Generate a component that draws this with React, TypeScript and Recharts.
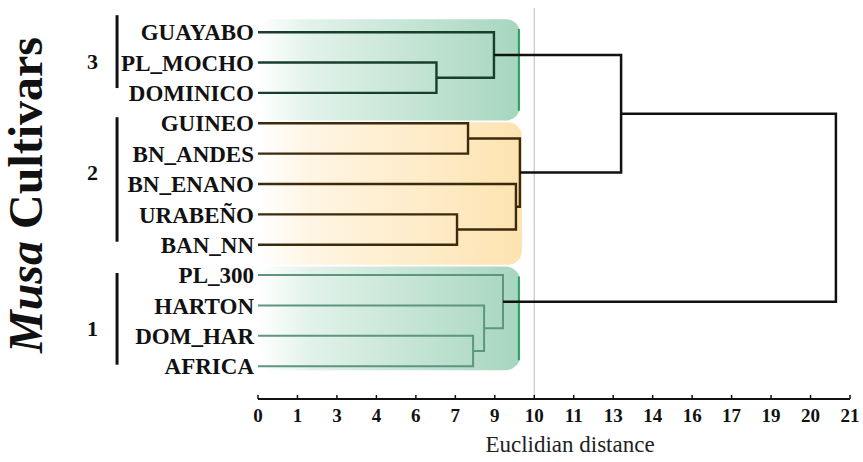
import React from 'react';
import { ComposedChart, Line, XAxis, YAxis, ReferenceLine, ReferenceArea, ReferenceDot, Label } from 'recharts';

// leaves, top to bottom
const leaves = ['GUAYABO', 'PL_MOCHO', 'DOMINICO', 'GUINEO', 'BN_ANDES', 'BN_ENANO', 'URABEÑO', 'BAN_NN', 'PL_300', 'HARTON', 'DOM_HAR', 'AFRICA'];

// linkage: node ids < 12 are leaves, merge m creates node 12 + m
const mergeA = [1, 0, 3, 6, 5, 14, 13, 10, 9, 8, 18];
const mergeB = [2, 12, 4, 7, 15, 16, 17, 11, 19, 20, 21];
const mergeHeight = [6.33, 8.37, 7.45, 7.06, 9.15, 9.29, 12.88, 7.63, 8.02, 8.69, 20.5];
const mergeGroup = [0, 0, 1, 1, 1, 1, -1, 2, 2, 2, -1];

// clusters, top to bottom
const clusterNames = ['3', '2', '1'];
const clusterFirst = [0, 3, 8];
const clusterLast = [2, 7, 11];

const xTickLabels = ['0', '1', '3', '4', '6', '7', '9', '10', '11', '13', '14', '16', '17', '19', '20', '21'];
const xMax = 21;
const cutLine = 9.8;

// styling / layout (data units)
const groupColor = ['#173f2c', '#3b2a0c', '#5d9580'];
const groupWidth = [2.4, 2.4, 2];
const bandFill = ['url(#gGreen)', 'url(#gOrange)', 'url(#gGreen)'];
const bandEdge = ['#2a9d62', '', '#2a9d62'];
const bandTop = [-0.43, 2.97, 7.72];
const bandBottom = [2.91, 7.66, 11.13];
const bandRight = [9.29, 9.36, 9.29];
const barTop = [-0.56, 2.8, 7.93];
const barBottom = [1.84, 6.9, 10.95];
const numberY = [0.95, 4.6, 9.75];
const barX = -5;

const serif = "'Liberation Serif', 'Times New Roman', serif";

// build bracket polylines from the linkage
const nodeY: number[] = leaves.map((_, i) => i);
const nodeH: number[] = leaves.map(() => 0);
const links = mergeA.map((a, m) => {
  const b = mergeB[m];
  const h = mergeHeight[m];
  const pts = [
    { x: nodeH[a], y: nodeY[a] },
    { x: h, y: nodeY[a] },
    { x: h, y: nodeY[b] },
    { x: nodeH[b], y: nodeY[b] },
  ];
  nodeY.push((nodeY[a] + nodeY[b]) / 2);
  nodeH.push(h);
  return { pts, group: mergeGroup[m] };
});

const xTicks = xTickLabels.map((_, i) => (i * xMax) / (xTickLabels.length - 1));

const Band = (props: any) => {
  const { x, y, width, height, idx } = props;
  const r = 14;
  return (
    <g>
      <rect x={x} y={y} width={width} height={height} rx={r} ry={r} fill={bandFill[idx]} />
      {bandEdge[idx] && (
        <line x1={x + width - 1} x2={x + width - 1} y1={y + r * 0.7} y2={y + height - r * 0.7} stroke={bandEdge[idx]} strokeWidth={2} />
      )}
    </g>
  );
};

const renderTitle = (props: any) => {
  const vb = props.viewBox;
  const cx = vb.x + 42;
  const cy = vb.y + vb.height / 2 - 13;
  return (
    <text x={cx} y={cy} transform={`rotate(-90 ${cx} ${cy})`} textAnchor="middle" fontFamily={serif} fontWeight="bold" fontSize={48} fill="#111">
      <tspan fontStyle="italic">Musa</tspan> Cultivars
    </text>
  );
};

export default function App() {
  return (
    <div style={{ position: 'absolute', left: 0, top: 0, width: 863, height: 462, background: '#fff' }}>
      <ComposedChart width={863} height={462} margin={{ top: 17, right: 13, bottom: 23, left: 0 }}>
        <defs>
          <linearGradient id="gGreen" x1="0" y1="0" x2="1" y2="0">
            <stop offset="0%" stopColor="#ffffff" />
            <stop offset="20%" stopColor="#e2f2ea" />
            <stop offset="100%" stopColor="#a6d6bf" />
          </linearGradient>
          <linearGradient id="gOrange" x1="0" y1="0" x2="1" y2="0">
            <stop offset="0%" stopColor="#ffffff" />
            <stop offset="20%" stopColor="#fff5e3" />
            <stop offset="100%" stopColor="#fde3b0" />
          </linearGradient>
        </defs>
        <XAxis
          dataKey="x"
          type="number"
          domain={[0, xMax]}
          ticks={xTicks}
          interval={0}
          allowDataOverflow
          height={40}
          tickSize={-4}
          tickMargin={14}
          tickFormatter={(_v: number, i: number) => xTickLabels[i]}
          tick={{ fontFamily: serif, fontWeight: 'bold', fontSize: 19, fill: '#111' }}
          axisLine={{ stroke: '#111', strokeWidth: 2 }}
          tickLine={{ stroke: '#111', strokeWidth: 1.5 }}
        >
          <Label value="Euclidian distance" position="bottom" offset={-3} dx={16} style={{ fontFamily: serif, fontSize: 23, fill: '#222' }} />
        </XAxis>
        <YAxis
          type="number"
          reversed
          domain={[-0.5, 12.08]}
          ticks={leaves.map((_, i) => i)}
          interval={0}
          allowDataOverflow
          width={258}
          tickSize={0}
          tickMargin={4}
          axisLine={false}
          tickLine={false}
          tickFormatter={(v: number) => leaves[v]}
          tick={{ fontFamily: serif, fontWeight: 'bold', fontSize: 23, fill: '#111' }}
        >
          <Label content={renderTitle} />
        </YAxis>

        {clusterNames.map((_, i) => (
          <ReferenceArea
            key={`band-${i}`}
            x1={0}
            x2={bandRight[i]}
            y1={bandTop[i]}
            y2={bandBottom[i]}
            ifOverflow="visible"
            shape={(p: any) => <Band {...p} idx={i} />}
          />
        ))}

        <ReferenceLine
          segment={[{ x: cutLine, y: -0.8 }, { x: cutLine, y: 12.08 }]}
          stroke="#c4c4c4"
          strokeWidth={1.2}
          ifOverflow="visible"
        />

        {clusterNames.map((name, i) => (
          <ReferenceLine
            key={`bar-${i}`}
            segment={[{ x: barX, y: barTop[i] }, { x: barX, y: barBottom[i] }]}
            stroke="#111"
            strokeWidth={3}
            ifOverflow="visible"
          />
        ))}
        {clusterNames.map((name, i) => (
          <ReferenceDot
            key={`num-${i}`}
            x={barX}
            y={numberY[i]}
            r={0}
            fill="none"
            stroke="none"
            ifOverflow="visible"
            label={{ value: name, position: 'left', offset: 19, style: { fontFamily: serif, fontWeight: 'bold', fontSize: 22, fill: '#111' } }}
          />
        ))}

        {links.map((l, i) => (
          <Line
            key={`link-${i}`}
            data={l.pts}
            dataKey="y"
            type="linear"
            stroke={l.group < 0 ? '#111' : groupColor[l.group]}
            strokeWidth={l.group < 0 ? 2.5 : groupWidth[l.group]}
            dot={false}
            activeDot={false}
            isAnimationActive={false}
            strokeLinejoin="miter"
          />
        ))}
      </ComposedChart>
    </div>
  );
}
